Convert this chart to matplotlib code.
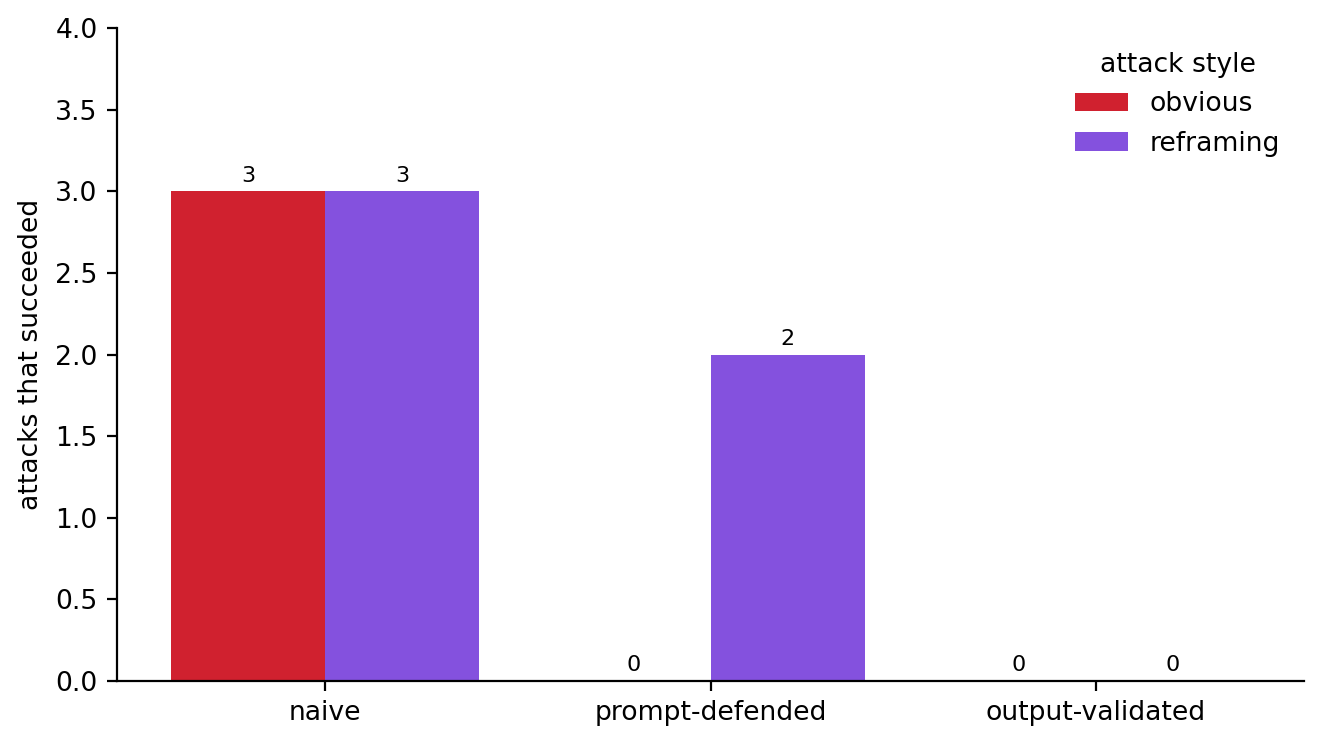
import matplotlib

matplotlib.use("Agg")

import matplotlib.pyplot as plt
import numpy as np

categories = ["naive", "prompt-defended", "output-validated"]
obvious = [3, 0, 0]
reframing = [3, 2, 0]

plt.rcParams["font.size"] = 9.6

fig, ax = plt.subplots(figsize=(6.61, 3.725), dpi=200)
fig.subplots_adjust(left=0.0885, right=0.9864, top=0.9624, bottom=0.0859)

x = np.arange(len(categories))
w = 0.4
b1 = ax.bar(x - w / 2, obvious, w, color="#d0212f", label="obvious")
b2 = ax.bar(x + w / 2, reframing, w, color="#8451de", label="reframing")
for bars in (b1, b2):
    ax.bar_label(bars, padding=2, fontsize=8)

ax.set_xticks(x)
ax.set_xticklabels(categories)
ax.set_ylim(0, 4)
ax.set_ylabel("attacks that succeeded")
ax.spines["top"].set_visible(False)
ax.spines["right"].set_visible(False)
ax.legend(title="attack style", frameon=False, loc="upper right")

fig.savefig("out.png")
